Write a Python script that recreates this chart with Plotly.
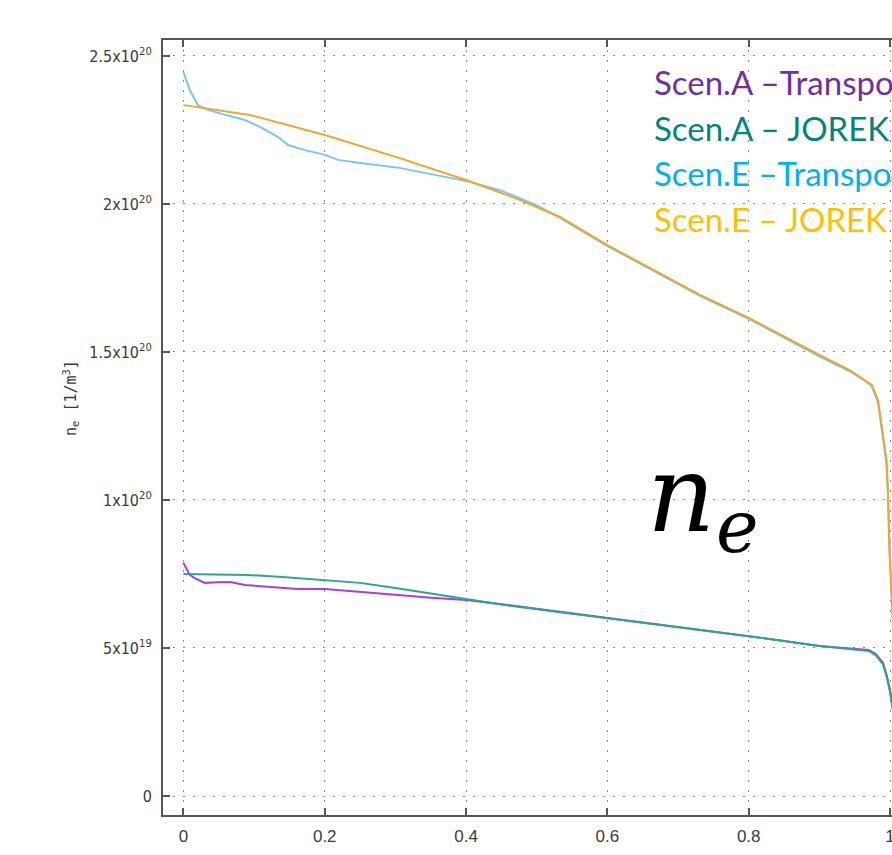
import plotly.graph_objects as go

# ---------------- data (density in units of 1e20 m^-3) ----------------
rho_A_tr = [0.0, 0.009, 0.016, 0.03, 0.05, 0.066, 0.087, 0.125, 0.162, 0.2, 0.247, 0.3, 0.35,
            0.4, 0.45, 0.5, 0.55, 0.6, 0.65, 0.7, 0.75, 0.8, 0.85, 0.9, 0.95, 0.97, 0.98,
            0.99, 0.995, 1.0, 1.01]
ne_A_tr = [0.787, 0.747, 0.736, 0.72, 0.722, 0.723, 0.713, 0.706, 0.699, 0.699, 0.689, 0.68,
           0.67, 0.662, 0.648, 0.632, 0.617, 0.601, 0.586, 0.571, 0.556, 0.541, 0.524, 0.507,
           0.497, 0.493, 0.48, 0.45, 0.41, 0.36, 0.2]

rho_A_jo = [0.0, 0.09, 0.14, 0.2, 0.25, 0.3, 0.35, 0.4, 0.45, 0.5, 0.55, 0.6, 0.65, 0.7, 0.75,
            0.8, 0.85, 0.9, 0.95, 0.97, 0.98, 0.99, 0.995, 1.0, 1.01]
ne_A_jo = [0.75, 0.747, 0.74, 0.73, 0.72, 0.703, 0.684, 0.664, 0.647, 0.631, 0.615, 0.599,
           0.585, 0.57, 0.555, 0.54, 0.524, 0.507, 0.496, 0.49, 0.475, 0.445, 0.405, 0.35, 0.2]

rho_E_tr = [0.0, 0.009, 0.0205, 0.035, 0.059, 0.087, 0.111, 0.134, 0.148, 0.172, 0.2, 0.219,
            0.247, 0.306, 0.363, 0.4, 0.45, 0.5, 0.533, 0.6, 0.66, 0.731, 0.8, 0.858, 0.9,
            0.943, 0.965, 0.974, 0.983, 0.99, 0.995, 0.997, 0.999, 1.001, 1.0024, 1.01]
ne_E_tr = [2.446, 2.385, 2.334, 2.318, 2.301, 2.284, 2.257, 2.226, 2.199, 2.182, 2.166, 2.149,
           2.139, 2.122, 2.095, 2.078, 2.045, 1.995, 1.953, 1.858, 1.781, 1.69, 1.612, 1.537,
           1.485, 1.435, 1.402, 1.385, 1.33, 1.21, 1.12, 1.02, 0.84, 0.75, 0.67, 0.3]

rho_E_jo = [0.0, 0.094, 0.2, 0.306, 0.4, 0.476, 0.533, 0.6, 0.66, 0.731, 0.8, 0.858, 0.9,
            0.943, 0.965, 0.974, 0.983, 0.99, 0.995, 0.997, 0.999, 1.001, 1.0024, 1.01]
ne_E_jo = [2.334, 2.301, 2.233, 2.155, 2.081, 2.014, 1.956, 1.861, 1.784, 1.693, 1.615, 1.541,
           1.49, 1.439, 1.405, 1.389, 1.338, 1.226, 1.135, 1.034, 0.831, 0.74, 0.662, 0.3]

series_names = ["Scen.A –Transport", "Scen.A – JOREK", "Scen.E –Transport", "Scen.E – JOREK"]
line_colors = ["#a541e0", "#2ea68a", "#74c8f0", "#f2a52a"]
text_colors = ["#7030a0", "#00857a", "#00b0f0", "#ffc000"]

y_tickvals = [0, 0.5, 1.0, 1.5, 2.0, 2.5]
y_ticktext = ["0", "5x10<sup>19</sup>", "1x10<sup>20</sup>", "1.5x10<sup>20</sup>",
              "2x10<sup>20</sup>", "2.5x10<sup>20</sup>"]
x_tickvals = [0, 0.2, 0.4, 0.6, 0.8, 1.0]
x_ticktext = ["0", "0.2", "0.4", "0.6", "0.8", "1"]

# ---------------- figure ----------------
W, H = 892, 855
L, R, T, B = 163, 0, 40, 40
fig = go.Figure()
for xs, ys, c in [(rho_A_tr, ne_A_tr, line_colors[0]), (rho_A_jo, ne_A_jo, line_colors[1]),
                  (rho_E_tr, ne_E_tr, line_colors[2]), (rho_E_jo, ne_E_jo, line_colors[3])]:
    fig.add_trace(go.Scatter(x=xs, y=ys, mode="lines", line=dict(color=c, width=2),
                             showlegend=False, hoverinfo="skip"))

ytickfont = dict(family="Liberation Sans Narrow, DejaVu Sans Condensed, Liberation Sans, sans-serif",
                 size=16, color="#3a3a3a")
xtickfont = dict(family="Liberation Sans, sans-serif", size=17, color="#3a3a3a")
fig.update_xaxes(range=[-0.0289, 1.0028], tickvals=x_tickvals, ticktext=x_ticktext,
                 ticks="inside", ticklen=7, tickwidth=1.5, tickcolor="#555",
                 showline=True, linecolor="#555", linewidth=2, mirror="ticks",
                 showgrid=True, gridcolor="#8a8a8a", gridwidth=1.3, griddash="2px,8px",
                 zeroline=False, tickfont=xtickfont, ticklabelstandoff=5,
                 ticklabeloverflow="allow", automargin=False)
fig.update_yaxes(range=[-0.0642, 2.554], tickvals=y_tickvals, ticktext=y_ticktext,
                 ticks="inside", ticklen=7, tickwidth=1.5, tickcolor="#555",
                 showline=True, linecolor="#555", linewidth=2, mirror=False,
                 showgrid=True, gridcolor="#8a8a8a", gridwidth=1.3, griddash="2px,8px",
                 zeroline=False, tickfont=ytickfont, ticklabelstandoff=6, automargin=False)

def px(xp):
    return (xp - L) / (W - L - R)

def py(yp):
    return (H - B - yp) / (H - T - B)

ann = []
leg_y = [82, 128, 173, 219]
for name, col, yy in zip(series_names, text_colors, leg_y):
    ann.append(dict(xref="paper", yref="paper", x=px(652), y=py(yy), xanchor="left",
                    yanchor="middle", text=name, showarrow=False,
                    font=dict(family="Lato, Noto Sans, sans-serif", size=33, color=col)))
# big n_e label
ann.append(dict(xref="paper", yref="paper", x=px(681), y=py(494), xanchor="center",
                yanchor="middle", text="<i>n</i>", showarrow=False,
                font=dict(family="DejaVu Serif, serif", size=106, color="#000")))
ann.append(dict(xref="paper", yref="paper", x=px(737), y=py(527), xanchor="center",
                yanchor="middle", text="<i>e</i>", showarrow=False,
                font=dict(family="DejaVu Serif, serif", size=72, color="#000")))
# y axis title
ann.append(dict(xref="paper", yref="paper", x=px(70), y=py(398), xanchor="center",
                yanchor="middle", textangle=-90, showarrow=False,
                text="n<sub>e</sub> [1/m<sup>3</sup>]",
                font=dict(family="DejaVu Sans Mono, monospace", size=15, color="#3a3a3a")))
# x axis title (cut off by the bottom edge)
ann.append(dict(xref="paper", yref="paper", x=px(548), y=py(849), xanchor="center",
                yanchor="top", showarrow=False, text="ρ<sub>tor</sub>",
                font=dict(family="Liberation Sans, sans-serif", size=17, color="#3a3a3a")))

fig.update_layout(width=W, height=H, margin=dict(l=L, r=R, t=T, b=B, pad=0),
                  plot_bgcolor="white", paper_bgcolor="white", annotations=ann,
                  showlegend=False)

fig.write_html("out.html", config={"displayModeBar": False},
               post_script="document.body.style.margin='0';document.body.style.overflow='hidden';")
